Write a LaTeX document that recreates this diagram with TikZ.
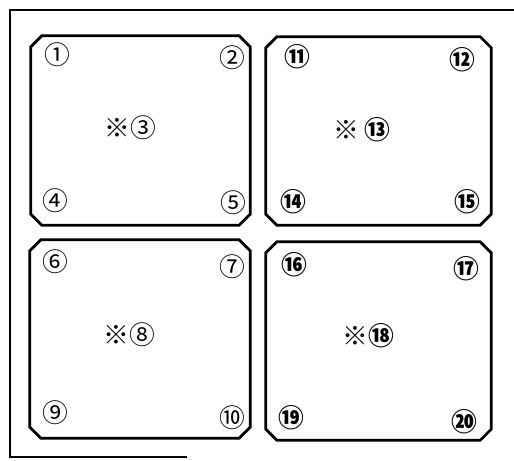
\documentclass[tikz,border=0pt]{standalone}
\usepackage{fontspec}
\newfontfamily\jpfont{Noto Sans CJK JP}
\usetikzlibrary{positioning}

\begin{document}
\begin{tikzpicture}[
        x=0.03cm, y=-0.03cm,
        panel/.style={inner sep=0pt},
        edge/.style={line width=2.4pt, line join=miter},
        num/.style={inner sep=0pt, font=\jpfont\fontsize{22}{22}\selectfont},
        numb/.style={num, font=\jpfont\bfseries\fontsize{22}{22}\selectfont},
        frame/.style={line width=2.4pt}
      ]
        \useasboundingbox (0,0) rectangle (514,461);
        % outer frame
        \coordinate (ftl) at (10,10);
        \coordinate (ftr) at (514,10);
        \coordinate (fbl) at (10,457);
        \coordinate (fbr) at (187,457);
        \draw[frame] (ftr) -- (ftl) -- (fbl) -- (fbr);
        % panels
        \node[panel, minimum width=6.57cm, minimum height=5.67cm] (p1) at (140.5,130.5) {};
        \node[panel, minimum width=6.75cm, minimum height=5.64cm] (p2) at (378.5,131) {};
        \node[panel, minimum width=6.6cm, minimum height=5.94cm] (p3) at (140,339) {};
        \node[panel, minimum width=6.75cm, minimum height=5.94cm] (p4) at (378.5,341) {};
        \foreach \p in {p1,p2,p3,p4}
          \draw[edge] ([xshift=3.3mm]\p.north west) -- ([xshift=-3.3mm]\p.north east)
            -- ([yshift=-3.3mm]\p.north east) -- ([yshift=3.3mm]\p.south east)
            -- ([xshift=-3.3mm]\p.south east) -- ([xshift=3.3mm]\p.south west)
            -- ([yshift=3.3mm]\p.south west) -- ([yshift=-3.3mm]\p.north west) -- cycle;
        % upper left
        \node[num] (n1) at (57,55) {①};
        \node[num] (n2) at (232,58) {②};
        \node[num] (c3) at (130,128) {※③};
        \node[num] (n4) at (55,201) {④};
        \node[num] (n5) at (233,203) {⑤};
        % upper right
        \node[numb] (n11) at (297,57) {⑪};
        \node[numb] (n12) at (462,60) {⑫};
        \node[numb] (c13) at (362,130) {※\hspace{0.15cm}⑬};
        \node[numb] (n14) at (293,202) {⑭};
        \node[numb] (n15) at (467,202) {⑮};
        % lower left
        \node[num] (n6) at (55,262) {⑥};
        \node[num] (n7) at (232,267) {⑦};
        \node[num] (c8) at (129,335) {※⑧};
        \node[num] (n9) at (55,413) {⑨};
        \node[num] (n10) at (232,418) {⑩};
        % lower right
        \node[numb] (n16) at (294,265) {⑯};
        \node[numb] (n17) at (466,269) {⑰};
        \node[numb] (c18) at (368,336) {※⑱};
        \node[numb] (n19) at (291,418) {⑲};
        \node[numb] (n20) at (464,422) {⑳};
      \end{tikzpicture}
\end{document}
